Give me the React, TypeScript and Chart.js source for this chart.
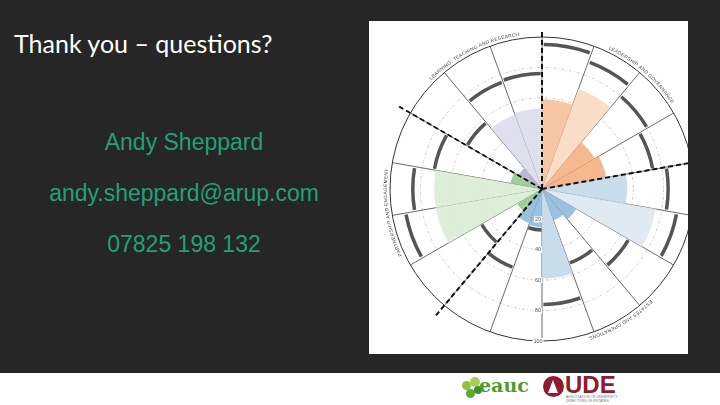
import React, { useEffect, useRef } from "react";
import { Chart, registerables } from "chart.js";

Chart.register(...registerables);

// ---- data ----
const categories = [
  "Leadership & Governance 1", "Leadership & Governance 2", "Leadership & Governance 3", "Leadership & Governance 4",
  "Estates & Operations 1", "Estates & Operations 2", "Estates & Operations 3", "Estates & Operations 4",
  "Estates & Operations 5", "Estates & Operations 6", "Estates & Operations 7",
  "Partnership & Engagement 1", "Partnership & Engagement 2", "Partnership & Engagement 3", "Partnership & Engagement 4",
  "Learning, Teaching & Research 1", "Learning, Teaching & Research 2", "Learning, Teaching & Research 3",
];
const scores = [59, 70, 40, 43, 56, 76, 26, 22, 59, 25, 24, 19, 71, 71, 21, 18, 52, 53];
const benchmarks = [95, 89, 80, 74, 83, 90, 66, 52, 76, 27, 55, 46, 91, 85, 72, 57, 75, 76];
const segmentColors = [
  "#f5c09b", "#fad9c1", "#f4b083", "#f4b083",
  "#c3d9ea", "#dbe8f2", "#8fbadb", "#8fbadb", "#c3d9ea", "#8fbadb", "#8fbadb",
  "#94c993", "#d9ecd5", "#d9ecd5", "#94c993",
  "#b3afd3", "#dcdbec", "#dcdbec",
];
const tickValues = [20, 40, 60, 80, 100];
const sectionNames = [
  "LEADERSHIP AND GOVERNANCE",
  "ESTATES AND OPERATIONS",
  "PARTNERSHIP AND ENGAGEMENT",
  "LEARNING, TEACHING AND RESEARCH",
];
const sectionLabelAngles = [41, 149, 261, 333];
const dividerIndex = [0, 4, 11, 15];
const dividerExtent = [104, 115, 110, 110];

function drawArcText(ctx: CanvasRenderingContext2D, text: string, cx: number, cy: number, r: number, centerDeg: number, spacing: number) {
  ctx.save();
  ctx.textAlign = "center";
  ctx.textBaseline = "alphabetic";
  const chars = Array.from(text);
  const widths = chars.map((c) => ctx.measureText(c).width + spacing);
  const total = widths.reduce((a, b) => a + b, 0);
  let a = (centerDeg * Math.PI) / 180 - total / r / 2;
  chars.forEach((ch, i) => {
    const w = widths[i];
    const mid = a + w / 2 / r;
    ctx.save();
    ctx.translate(cx + r * Math.sin(mid), cy - r * Math.cos(mid));
    ctx.rotate(mid);
    ctx.fillText(ch, 0, 0);
    ctx.restore();
    a += w / r;
  });
  ctx.restore();
}

const overlayPlugin = {
  id: "overlay",
  afterDatasetsDraw(chart: any) {
    const ctx: CanvasRenderingContext2D = chart.ctx;
    const scale = chart.scales.r;
    const cx = scale.xCenter;
    const cy = scale.yCenter;
    const meta = chart.getDatasetMeta(0);

    // benchmark arcs
    ctx.save();
    ctx.strokeStyle = "#555555";
    ctx.lineWidth = 3.5;
    benchmarks.forEach((b, i) => {
      const el = meta.data[i];
      const r = scale.getDistanceFromCenterForValue(b);
      ctx.beginPath();
      ctx.arc(cx, cy, r, el.startAngle + 0.012, el.endAngle - 0.012);
      ctx.stroke();
    });
    ctx.restore();

    // tick labels along the bottom spoke
    ctx.save();
    ctx.font = "5.5px 'Liberation Sans', Arial, sans-serif";
    ctx.textAlign = "center";
    ctx.textBaseline = "middle";
    tickValues.forEach((v) => {
      const y = cy + scale.getDistanceFromCenterForValue(v);
      const label = String(v);
      const w = ctx.measureText(label).width;
      const x = cx - 4;
      ctx.fillStyle = "#ffffff";
      ctx.fillRect(x - w / 2 - 1, y - 3, w + 2, 6);
      ctx.fillStyle = "#555555";
      ctx.fillText(label, x, y);
    });
    ctx.restore();

    // dashed section dividers
    ctx.save();
    ctx.strokeStyle = "#111111";
    ctx.lineWidth = 2;
    ctx.setLineDash([5, 3]);
    dividerIndex.forEach((idx, k) => {
      const a = meta.data[idx].startAngle;
      const r = scale.getDistanceFromCenterForValue(dividerExtent[k]);
      ctx.beginPath();
      ctx.moveTo(cx, cy);
      ctx.lineTo(cx + r * Math.cos(a), cy + r * Math.sin(a));
      ctx.stroke();
    });
    ctx.restore();

    // curved section labels
    ctx.save();
    ctx.font = "4.8px 'Liberation Sans', Arial, sans-serif";
    ctx.fillStyle = "#444444";
    const rr = scale.drawingArea + 3;
    sectionNames.forEach((name, i) => {
      drawArcText(ctx, name, cx, cy, rr, sectionLabelAngles[i], 0.3);
    });
    ctx.restore();
  },
};

function PolarChart() {
  const ref = useRef<HTMLCanvasElement | null>(null);
  useEffect(() => {
    if (!ref.current) return;
    const chart = new Chart(ref.current, {
      type: "polarArea",
      data: {
        labels: categories,
        datasets: [
          {
            data: scores,
            backgroundColor: segmentColors.map((c) => c + "E6"),
            borderWidth: 0,
          },
        ],
      },
      options: {
        animation: false,
        responsive: false,
        devicePixelRatio: 1,
        layout: { padding: 28 },
        plugins: { legend: { display: false }, tooltip: { enabled: false } },
        scales: {
          r: {
            min: 0,
            max: 100,
            startAngle: 0,
            ticks: { display: false, stepSize: 20 },
            pointLabels: { display: false },
            grid: {
              circular: true,
              color: (c: any) => (c.tick && c.tick.value === 100 ? "#333333" : "#c4c4c4"),
              lineWidth: (c: any) => (c.tick && c.tick.value === 100 ? 1 : 0.8),
            },
            border: {
              dash: (c: any) => (c.tick && c.tick.value === 100 ? [] : [3, 2, 1, 2]),
            },
            angleLines: { display: true, color: "#444444", lineWidth: 0.8 },
          },
        },
      } as any,
      plugins: [overlayPlugin],
    });
    return () => chart.destroy();
  }, []);
  return (
    <canvas
      ref={ref}
      width={360}
      height={360}
      style={{ position: "absolute", left: -7, top: -12, width: 360, height: 360 }}
    />
  );
}

const green = "#22a077";

export default function App() {
  return (
    <div
      style={{
        position: "fixed",
        left: 0,
        top: 0,
        width: 720,
        height: 405,
        background: "#262626",
        overflow: "hidden",
      }}
    >
      <div
        style={{
          position: "absolute",
          left: 14,
          top: 31,
          fontFamily: "Lato, 'Open Sans', sans-serif",
          fontSize: 25,
          lineHeight: "25px",
          color: "#ffffff",
          whiteSpace: "nowrap",
        }}
      >
        Thank you – questions?
      </div>
      {[
        { t: "Andy Sheppard", top: 131 },
        { t: "andy.sheppard@arup.com", top: 181.5 },
        { t: "07825 198 132", top: 233 },
      ].map((r) => (
        <div
          key={r.t}
          style={{
            position: "absolute",
            left: 0,
            width: 368,
            top: r.top,
            textAlign: "center",
            fontFamily: "'Liberation Sans', Arial, sans-serif",
            fontSize: 23,
            lineHeight: "23px",
            color: green,
            whiteSpace: "nowrap",
          }}
        >
          {r.t}
        </div>
      ))}

      <div
        style={{
          position: "absolute",
          left: 369,
          top: 21,
          width: 319,
          height: 333,
          background: "#ffffff",
          overflow: "hidden",
        }}
      >
        <PolarChart />
      </div>

      <div style={{ position: "absolute", left: 0, top: 373, width: 720, height: 32, background: "#ffffff" }}>
        {/* eauc logo */}
        <div style={{ position: "absolute", left: 462, top: 8, width: 9, height: 9, borderRadius: "50%", background: "#8cc63f" }} />
        <div style={{ position: "absolute", left: 470, top: 4, width: 10, height: 10, borderRadius: "50%", background: "#a5d15a" }} />
        <div style={{ position: "absolute", left: 466, top: 16, width: 9, height: 9, borderRadius: "50%", background: "#5da832" }} />
        <div style={{ position: "absolute", left: 474, top: 13, width: 8, height: 8, borderRadius: "50%", background: "#3f8f2d" }} />
        <div
          style={{
            position: "absolute",
            left: 479,
            top: 1,
            fontFamily: "'DejaVu Serif', 'Liberation Serif', serif",
            fontWeight: "bold",
            fontSize: 19,
            lineHeight: "22px",
            color: "#4f9a2f",
          }}
        >
          eauc
        </div>
        {/* AUDE logo */}
        <div style={{ position: "absolute", left: 543, top: 3, width: 21, height: 21, borderRadius: "50%", background: "#8e1b2e" }} />
        <div
          style={{
            position: "absolute",
            left: 548,
            top: 7,
            width: 0,
            height: 0,
            borderLeft: "5.5px solid transparent",
            borderRight: "5.5px solid transparent",
            borderBottom: "13px solid #ffffff",
          }}
        />
        <div
          style={{
            position: "absolute",
            left: 565,
            top: 0,
            fontFamily: "'Liberation Sans', Arial, sans-serif",
            fontWeight: "bold",
            fontSize: 24,
            lineHeight: "24px",
            color: "#8e1b2e",
          }}
        >
          UDE
        </div>
        <div
          style={{
            position: "absolute",
            left: 566,
            top: 22,
            fontFamily: "'Liberation Sans', Arial, sans-serif",
            fontSize: 3.5,
            lineHeight: "4px",
            color: "#777",
            whiteSpace: "nowrap",
          }}
        >
          ASSOCIATION OF UNIVERSITY
          <br />
          DIRECTORS OF ESTATES
        </div>
      </div>
    </div>
  );
}
